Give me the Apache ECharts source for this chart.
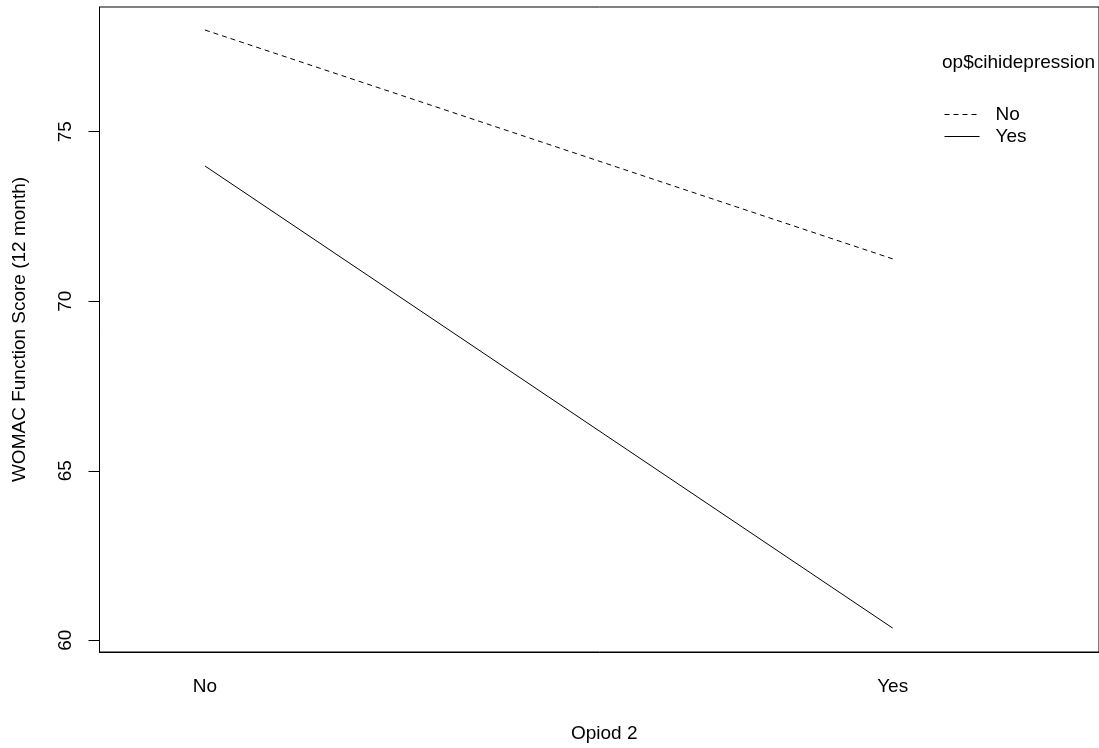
<!DOCTYPE html>
<html>
<head>
<meta charset="utf-8">
<script src="https://cdn.jsdelivr.net/npm/echarts@6/dist/echarts.min.js"></script>
<style>html,body{margin:0;padding:0;background:#fff;}#c{width:1099px;height:748px;}</style>
</head>
<body>
<div id="c"></div>
<script>
var categories = ['No', 'Yes'];
var groupNames = ['No', 'Yes'];
var seriesNo = [78.0, 71.25];
var seriesYes = [73.99, 60.36];
var yTicks = [60, 65, 70, 75];

var chart = echarts.init(document.getElementById('c'));
var font = 'Liberation Sans, Arial, sans-serif';
var fs = 19;
function pts(arr) { return arr.map(function (v, i) { return [i + 1, v]; }); }
chart.setOption({
  animation: false,
  backgroundColor: '#fff',
  textStyle: { fontFamily: font },
  title: {
    text: 'op$cihidepression',
    left: 942, top: 53, padding: 0,
    textStyle: { fontSize: fs, fontWeight: 'normal', color: '#000', fontFamily: font }
  },
  legend: {
    orient: 'vertical',
    left: 944, top: 105, padding: 0,
    itemWidth: 35, itemHeight: 14,
    itemGap: 3,
    itemStyle: { opacity: 0 },
    lineStyle: { width: 1 },
    textStyle: { fontSize: fs, color: '#000', fontFamily: font, padding: [0, 0, 0, 11] },
    data: groupNames
  },
  grid: { left: 99.5, top: 7, right: 0, bottom: 96, show: true, borderColor: '#000', borderWidth: 1, backgroundColor: 'transparent' },
  xAxis: {
    type: 'value',
    min: 0.8467, max: 2.3,
    name: 'Opiod 2', nameLocation: 'middle', nameGap: 72,
    nameTextStyle: { fontSize: fs, color: '#000', fontFamily: font, padding: [0, 0, 0, 10] },
    axisLine: { show: true, lineStyle: { color: '#000', width: 1 } },
    axisTick: { show: false },
    splitLine: { show: false },
    axisLabel: {
      customValues: [1, 2],
      formatter: function (v) { return categories[Math.round(v) - 1] || ''; },
      fontSize: fs, color: '#000', margin: 25, fontFamily: font
    }
  },
  yAxis: {
    type: 'value',
    min: 59.655, max: 78.678,
    name: 'WOMAC Function Score (12 month)', nameLocation: 'middle', nameGap: 70,
    nameTextStyle: { fontSize: fs, color: '#000', fontFamily: font },
    axisLine: { show: true, lineStyle: { color: '#000', width: 1 } },
    axisTick: { show: true, length: 11, customValues: yTicks, lineStyle: { color: '#000' } },
    splitLine: { show: false },
    axisLabel: {
      customValues: yTicks, rotate: 90,
      fontSize: fs, color: '#000', margin: 24, fontFamily: font
    }
  },
  series: [
    { name: groupNames[0], type: 'line', data: pts(seriesNo), symbol: 'none',
      lineStyle: { color: '#000', width: 1, type: [5, 4] }, itemStyle: { color: '#000' } },
    { name: groupNames[1], type: 'line', data: pts(seriesYes), symbol: 'none',
      lineStyle: { color: '#000', width: 1, type: 'solid' }, itemStyle: { color: '#000' } }
  ]
});
</script>
</body>
</html>
